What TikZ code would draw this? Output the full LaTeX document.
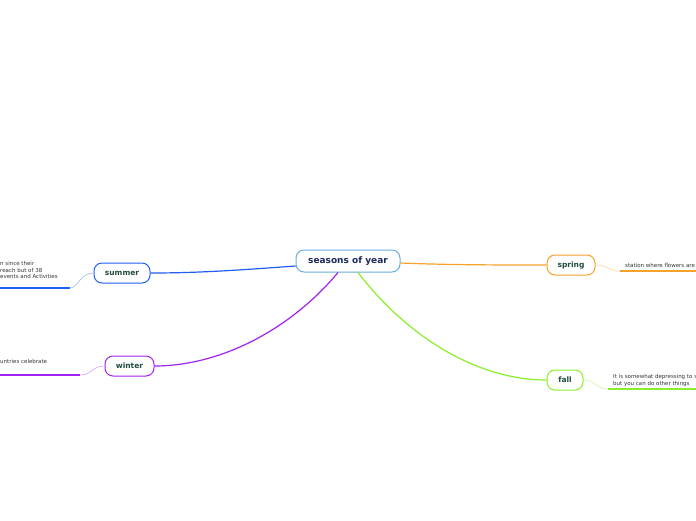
\documentclass[tikz,border=0pt]{standalone}
\usepackage{fontspec}
\setmainfont{DejaVu Sans}
\usetikzlibrary{positioning}

\definecolor{rootline}{HTML}{6AAEE0}
\definecolor{roottext}{HTML}{1B2A5C}
\definecolor{leaftext}{HTML}{1E4D3C}
\definecolor{sumcol}{HTML}{1F5EF5}
\definecolor{wincol}{HTML}{A222F2}
\definecolor{sprcol}{HTML}{F5A22A}
\definecolor{falcol}{HTML}{8AEE28}

\begin{document}
\begin{tikzpicture}[
      x=1pt, y=-1pt,
      every node/.style={font=\fontsize{5.5}{6.5}\selectfont, inner sep=0pt},
      root/.style={draw=rootline, line width=1pt, rounded corners=8pt, fill=white,
                   minimum width=104pt, minimum height=22pt, text=roottext,
                   font=\fontsize{9}{10}\selectfont\bfseries},
      season/.style={draw=#1, line width=1pt, rounded corners=8pt, fill=white,
                     minimum height=20pt, text=leaftext,
                     font=\fontsize{7.5}{9}\selectfont\bfseries},
      branch/.style={draw=#1, line width=1.2pt},
      twig/.style={draw=#1!45, line width=0.6pt},
      under/.style={draw=#1, line width=1.4pt},
      note/.style={text=black!80, align=left, anchor=west}
  ]
    \useasboundingbox (0,0) rectangle (696,520);

    \node[root] (year) at (348,261) {seasons of year};
    \node[season=sumcol, minimum width=56pt] (summer) at (122,273) {summer};
    \node[season=wincol, minimum width=49pt] (winter) at (129.5,366) {winter};
    \node[season=sprcol, minimum width=48pt] (spring) at (571,265) {spring};
    \node[season=falcol, minimum width=36pt] (fall) at (565,380) {fall};

    % main branches
    \draw[branch=sumcol] ([yshift=-5pt]year.west) .. controls (240,270) and (200,273) .. (summer.east);
    \draw[branch=wincol] ([xshift=-10pt]year.south) .. controls (290,330) and (220,366) .. (winter.east);
    \draw[branch=sprcol] ([yshift=-2pt]year.east) .. controls (450,265) and (500,265) .. (spring.west);
    \draw[branch=falcol] ([xshift=10pt]year.south) .. controls (410,340) and (480,380) .. (fall.west);

    % summer note
    \coordinate (sum-a) at (70,288);
    \coordinate (sum-b) at (0,288);
    \node[note] (sum-txt) at (0,270) {n since their\\reach but of 38\\events and Activities};
    \draw[twig=sumcol] (summer.west) .. controls (80,273) and (78,288) .. (sum-a);
    \draw[under=sumcol] (sum-a) -- (sum-b);

    % winter note
    \coordinate (win-a) at (80,375);
    \coordinate (win-b) at (0,375);
    \node[note] (win-txt) at (0,361.5) {untries celebrate};
    \draw[twig=wincol] (winter.west) .. controls (92,366) and (92,375) .. (win-a);
    \draw[under=wincol] (win-a) -- (win-b);

    % spring note
    \coordinate (spr-a) at (620,271);
    \coordinate (spr-b) at (696,271);
    \node[note] (spr-txt) at (625,265.5) {station where flowers are};
    \draw[twig=sprcol] (spring.east) .. controls (608,265) and (608,271) .. (spr-a);
    \draw[under=sprcol] (spr-a) -- (spr-b);

    % fall note
    \coordinate (fal-a) at (608,389);
    \coordinate (fal-b) at (696,389);
    \node[note] (fal-txt) at (613,380.5) {It is somewhat depressing to s\\but you can do other things};
    \draw[twig=falcol] (fall.east) .. controls (596,380) and (596,389) .. (fal-a);
    \draw[under=falcol] (fal-a) -- (fal-b);
  \end{tikzpicture}
\end{document}
